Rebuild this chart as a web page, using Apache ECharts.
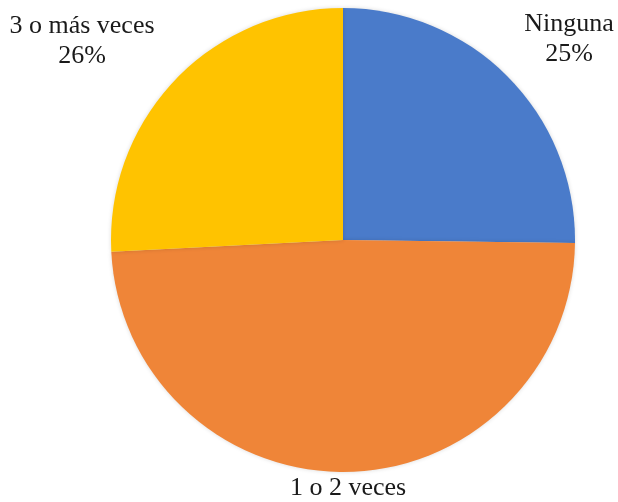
<!DOCTYPE html>
<html><head><meta charset="utf-8">
<script src="https://cdn.jsdelivr.net/npm/echarts@6/dist/echarts.min.js"></script>
<style>html,body{margin:0;padding:0;background:#fff}#c{width:618px;height:502px}</style>
</head><body><div id="c"></div>
<script>
const categories = ['Ninguna', '1 o 2 veces', '3 o más veces'];
const values = [25.2, 49.0, 25.8];
const colors = ['#4A7BCA', '#EF8538', '#FFC300'];
const labelPos = [[569, 39], [348, 503], [82, 41]];

const chart = echarts.init(document.getElementById('c'));
chart.setOption({
  animation: false,
  series: [{
    type: 'pie',
    center: [343, 240],
    radius: 232,
    startAngle: 90,
    clockwise: true,
    percentPrecision: 0,
    data: categories.map((n, i) => ({ name: n, value: values[i], itemStyle: { color: colors[i] } })),
    itemStyle: { borderWidth: 0, shadowBlur: 4, shadowColor: 'rgba(0,0,0,0.15)' },
    label: {
      show: true,
      position: 'outside',
      formatter: '{b}\n{d}%',
      fontFamily: 'Liberation Serif',
      fontSize: 26,
      lineHeight: 30,
      color: '#1a1a1a',
      align: 'center',
      overflow: 'none',
      width: 300
    },
    labelLine: { show: false },
    labelLayout: function (p) {
      return { x: labelPos[p.dataIndex][0], y: labelPos[p.dataIndex][1], align: 'center', verticalAlign: 'middle' };
    },
    emphasis: { disabled: true }
  }]
});
</script></body></html>
